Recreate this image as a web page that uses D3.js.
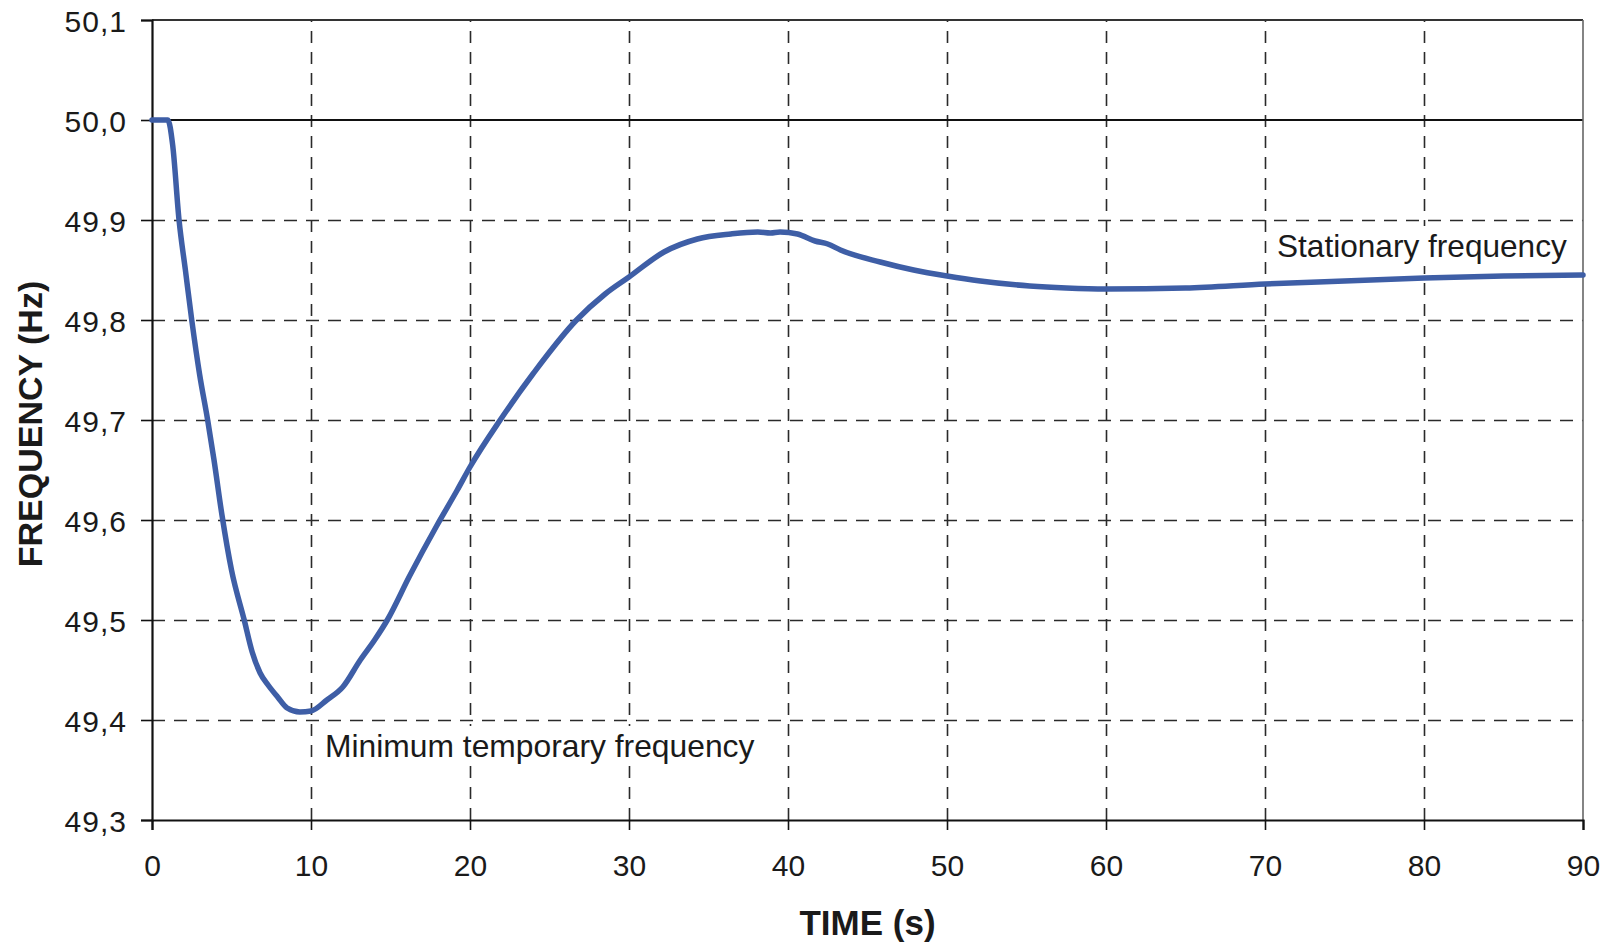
<!DOCTYPE html>
<html>
<head>
<meta charset="utf-8">
<script src="https://cdn.jsdelivr.net/npm/d3@7"></script>
<style>
  body { margin: 0; background: #fff; }
  svg { display: block; font-family: "Liberation Sans", Arial, sans-serif; }
</style>
</head>
<body>
<svg></svg>
<script>
var WIDTH = 1608;
var HEIGHT = 944;

// time (s) and frequency (Hz)
var timeS = [0, 1.0, 1.3, 1.7, 2.1, 2.5, 3.0, 3.5, 3.9, 4.4, 5.0, 5.8, 6.3, 6.8, 7.3, 7.9, 8.5, 9.3,
    10.0, 11.0, 12.0, 13.1, 14.0, 14.8, 16.2, 17.9, 19.2, 20.0, 21.9, 24.0, 26.7, 28.5,
    30.0, 32.2, 34.3, 36.4, 38.1, 38.9, 39.5, 40.6, 41.7, 42.5, 43.3, 45.8, 47.9,
    50.0, 52.1, 55.2, 57.5, 60.0, 65.0, 70.0, 75.0, 80.0, 85.0, 90.0];
var freqHz = [50.0, 50.0, 49.975, 49.9, 49.85, 49.8, 49.745, 49.7, 49.66, 49.605, 49.55, 49.5, 49.468, 49.447, 49.435, 49.423, 49.412, 49.408,
    49.409, 49.42, 49.433, 49.46, 49.48, 49.5, 49.544, 49.594, 49.63, 49.653, 49.7, 49.747, 49.8, 49.826,
    49.843, 49.868, 49.881, 49.886, 49.888, 49.887, 49.888, 49.886, 49.879, 49.876, 49.87, 49.858, 49.85,
    49.844, 49.839, 49.834, 49.832, 49.831, 49.832, 49.836, 49.839, 49.842, 49.844, 49.845];

var xTicks = [0, 10, 20, 30, 40, 50, 60, 70, 80, 90];
var yTicks = [49.3, 49.4, 49.5, 49.6, 49.7, 49.8, 49.9, 50.0, 50.1];

var plotLeft = 152, plotRight = 1583, plotTop = 20, plotBottom = 820;

var svg = d3.select('svg')
    .attr('width', WIDTH)
    .attr('height', HEIGHT);

var xScale = d3.scaleLinear().domain([0, 90]).range([plotLeft, plotRight]);
var yScale = d3.scaleLinear().domain([49.3, 50.1]).range([plotBottom, plotTop]);

var fmtY = function(d){ return d3.format('.1f')(d).replace('.', ','); };

// dashed grid
var xGrid = d3.axisBottom(xScale).tickValues(xTicks.slice(1, -1))
    .tickSize(-(plotBottom - plotTop)).tickFormat('');
svg.append('g')
    .attr('transform', 'translate(0,' + plotBottom + ')')
    .call(xGrid)
    .call(function(g){
        g.select('.domain').remove();
        g.selectAll('line').attr('stroke', '#2a2a2a').attr('stroke-width', 1.6)
            .attr('stroke-dasharray', '12,9');
    });

var yGrid = d3.axisLeft(yScale).tickValues([49.4, 49.5, 49.6, 49.7, 49.8, 49.9])
    .tickSize(-(plotRight - plotLeft)).tickFormat('');
svg.append('g')
    .attr('transform', 'translate(' + plotLeft + ',0)')
    .call(yGrid)
    .call(function(g){
        g.select('.domain').remove();
        g.selectAll('line').attr('stroke', '#2a2a2a').attr('stroke-width', 1.6)
            .attr('stroke-dasharray', '13,9');
    });

// solid lines: 50,0 reference, top and right border
svg.append('line')
    .attr('x1', plotLeft).attr('x2', plotRight)
    .attr('y1', yScale(50.0)).attr('y2', yScale(50.0))
    .attr('stroke', '#111').attr('stroke-width', 2.2);
svg.append('line')
    .attr('x1', plotLeft).attr('x2', plotRight)
    .attr('y1', yScale(50.1)).attr('y2', yScale(50.1))
    .attr('stroke', '#333').attr('stroke-width', 1.8);
svg.append('line')
    .attr('x1', plotRight).attr('x2', plotRight)
    .attr('y1', plotTop).attr('y2', plotBottom)
    .attr('stroke', '#666').attr('stroke-width', 1.6);

// annotations sit on a white box that hides the grid behind them
var addNote = function(x, y, size, label){
    var g = svg.append('g');
    var rect = g.append('rect').attr('fill', '#fff');
    var t = g.append('text')
        .attr('x', x).attr('y', y)
        .attr('font-size', size).attr('fill', '#1a1a1a')
        .text(label);
    var b = t.node().getBBox();
    rect.attr('x', b.x - 4).attr('y', b.y - 2)
        .attr('width', b.width + 8).attr('height', b.height + 4);
};
addNote(325, 757, 31.8, 'Minimum temporary frequency');
addNote(1277, 257, 31.6, 'Stationary frequency');

// axes
var bottomAxis = d3.axisBottom(xScale).tickValues(xTicks).tickSize(10).tickPadding(25)
    .tickFormat(d3.format('d'));
svg.append('g')
    .attr('transform', 'translate(0,' + plotBottom + ')')
    .call(bottomAxis)
    .call(function(g){
        g.select('.domain').attr('stroke', '#111').attr('stroke-width', 2.2);
        g.selectAll('line').attr('stroke', '#111').attr('stroke-width', 1.6);
        g.selectAll('text').attr('font-size', 30).attr('fill', '#1a1a1a')
            .attr('font-family', '"Liberation Sans", Arial, sans-serif');
    });

var leftAxis = d3.axisLeft(yScale).tickValues(yTicks).tickSize(11).tickPadding(14)
    .tickFormat(fmtY);
svg.append('g')
    .attr('transform', 'translate(' + plotLeft + ',0)')
    .call(leftAxis)
    .call(function(g){
        g.select('.domain').attr('stroke', '#111').attr('stroke-width', 2.2);
        g.selectAll('line').attr('stroke', '#111').attr('stroke-width', 1.6);
        g.selectAll('text').attr('font-size', 30).attr('fill', '#1a1a1a')
            .attr('dy', '0.37em').attr('letter-spacing', 1)
            .attr('font-family', '"Liberation Sans", Arial, sans-serif');
    });

// frequency curve
var points = timeS.map(function(t, i){ return [t, freqHz[i]]; });
var line = d3.line()
    .x(function(d){ return xScale(d[0]); })
    .y(function(d){ return yScale(d[1]); })
    .curve(d3.curveMonotoneX);
svg.append('path')
    .datum(points)
    .attr('d', line)
    .attr('fill', 'none')
    .attr('stroke', '#3e5ea6')
    .attr('stroke-width', 5.5)
    .attr('stroke-linejoin', 'round')
    .attr('stroke-linecap', 'round');

// axis titles
svg.append('text')
    .attr('x', (plotLeft + plotRight) / 2).attr('y', 935)
    .attr('text-anchor', 'middle')
    .attr('font-size', 35).attr('font-weight', 'bold').attr('fill', '#1a1a1a')
    .text('TIME (s)');
svg.append('text')
    .attr('transform', 'translate(42,' + ((plotTop + plotBottom) / 2 + 4) + ') rotate(-90)')
    .attr('text-anchor', 'middle')
    .attr('font-size', 34).attr('font-weight', 'bold').attr('fill', '#1a1a1a')
    .text('FREQUENCY (Hz)');
</script>
</body>
</html>
